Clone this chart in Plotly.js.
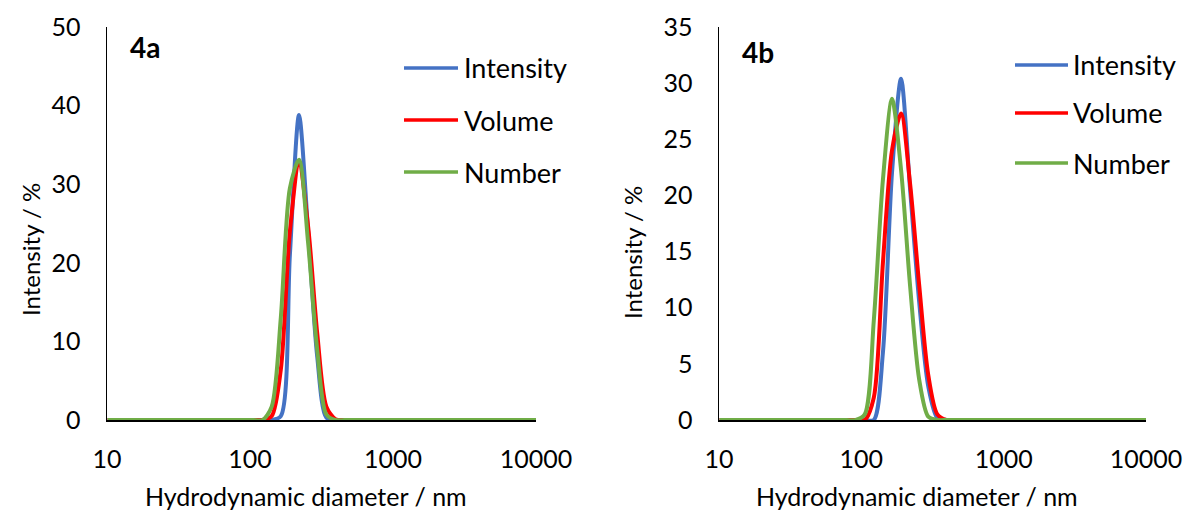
<!DOCTYPE html>
<html><head><meta charset="utf-8">
<script src="https://cdn.plot.ly/plotly-3.0.1.min.js"></script>
<style>html,body{margin:0;padding:0;background:#fff;}#chart{width:1183px;height:515px;}</style>
</head><body><div id="chart"></div>
<script>
// Hydrodynamic diameter bins (nm)
const sizes = [10.1,11.7,13.54,15.69,18.17,21.04,24.36,28.21,32.67,37.84,43.82,50.75,58.77,68.06,78.82,91.28,105.7,122.4,141.8,164.2,190.1,220.2,255.0,295.3,342.0,396.1,458.7,531.2,615.1,712.4,825.0,955.4,1106,1281,1484,1718,1990,2305,2669,3091,3580,4145,4801,5560,6439,7456,8635,10000];
// Panel 4a
const intensityA = [0,0,0,0,0,0,0,0,0,0,0,0,0,0,0,0,0,0,0,0.5,21,38.8,24,8,0.3,0,0,0,0,0,0,0,0,0,0,0,0,0,0,0,0,0,0,0,0,0,0,0];
const volumeA    = [0,0,0,0,0,0,0,0,0,0,0,0,0,0,0,0,0,0,0.5,6.4,24,32.5,24.6,11,1.7,0.1,0,0,0,0,0,0,0,0,0,0,0,0,0,0,0,0,0,0,0,0,0,0];
const numberA    = [0,0,0,0,0,0,0,0,0,0,0,0,0,0,0,0,0,0,1.7,13,29.5,33.1,22.5,8.9,0.7,0,0,0,0,0,0,0,0,0,0,0,0,0,0,0,0,0,0,0,0,0,0,0];
// Panel 4b
const intensityB = [0,0,0,0,0,0,0,0,0,0,0,0,0,0,0,0,0,0,6,22,30.4,20.5,10.5,3,0.2,0,0,0,0,0,0,0,0,0,0,0,0,0,0,0,0,0,0,0,0,0,0,0];
const volumeB    = [0,0,0,0,0,0,0,0,0,0,0,0,0,0,0,0,0,2,14,24,27.3,21,12,4,0.5,0,0,0,0,0,0,0,0,0,0,0,0,0,0,0,0,0,0,0,0,0,0,0];
const numberB    = [0,0,0,0,0,0,0,0,0,0,0,0,0,0,0,0,0.5,8.9,21.4,28.6,22.3,11.9,3.6,0.3,0,0,0,0,0,0,0,0,0,0,0,0,0,0,0,0,0,0,0,0,0,0,0,0];
const seriesNames = ["Intensity","Volume","Number"];
const colors = ["#4472C4","#FF0000","#70AD47"];
const xTicks = [10,100,1000,10000];
const xTickText = ["10","100","1000","10000"];
const panelLabels = ["4a","4b"];
const xTitle = "Hydrodynamic diameter / nm";
const yTitle = "Intensity / %";

const FONT = "Lato, 'Open Sans', sans-serif";
const W = 1183, H = 515;
const px = x => x / W, py = y => 1 - y / H;

const traces = [];
const dataA = [intensityA, volumeA, numberA];
const dataB = [intensityB, volumeB, numberB];
dataA.forEach((d,i)=>traces.push({x:sizes,y:d,type:'scatter',mode:'lines',name:seriesNames[i],
  line:{color:colors[i],width:4,shape:'spline',smoothing:0.8},xaxis:'x',yaxis:'y',showlegend:false}));
dataB.forEach((d,i)=>traces.push({x:sizes,y:d,type:'scatter',mode:'lines',name:seriesNames[i],
  line:{color:colors[i],width:4,shape:'spline',smoothing:0.8},xaxis:'x2',yaxis:'y2',showlegend:false}));

const xBase = {type:'log',range:[1,4],tickvals:xTicks,ticktext:xTickText,showgrid:false,zeroline:false,
  showline:true,linecolor:'#000',linewidth:1.5,ticks:'',ticklabelstandoff:16,layer:'below traces',
  tickfont:{family:FONT,size:25,color:'#000'},fixedrange:true};
const yBase = {showgrid:false,zeroline:false,showline:true,linecolor:'#000',linewidth:1.5,ticks:'',
  ticklabelstandoff:20,layer:'below traces',tickfont:{family:FONT,size:25,color:'#000'},fixedrange:true};

const shapes = [], annotations = [];
const legL = {x0:404,x1:458,tx:462,ys:[68,120,172]};
const legR = {x0:1015,x1:1068,tx:1071,ys:[65,113,163]};
[legL,legR].forEach(L=>{
  L.ys.forEach((y,i)=>{
    shapes.push({type:'line',xref:'paper',yref:'paper',x0:px(L.x0),x1:px(L.x1),y0:py(y),y1:py(y),line:{color:colors[i],width:3.5}});
    annotations.push({xref:'paper',yref:'paper',x:px(L.tx),y:py(y),xanchor:'left',yanchor:'middle',showarrow:false,
      text:seriesNames[i],font:{family:FONT,size:27,color:'#000'}});
  });
});
annotations.push({xref:'paper',yref:'paper',x:px(128),y:py(47),xanchor:'left',yanchor:'middle',showarrow:false,
  text:'<b>'+panelLabels[0]+'</b>',font:{family:FONT,size:28,color:'#000'}});
annotations.push({xref:'paper',yref:'paper',x:px(740),y:py(52),xanchor:'left',yanchor:'middle',showarrow:false,
  text:'<b>'+panelLabels[1]+'</b>',font:{family:FONT,size:28,color:'#000'}});
annotations.push({xref:'paper',yref:'paper',x:px(306),y:py(496),xanchor:'center',yanchor:'middle',showarrow:false,
  text:xTitle,font:{family:FONT,size:25,color:'#000'}});
annotations.push({xref:'paper',yref:'paper',x:px(917),y:py(496),xanchor:'center',yanchor:'middle',showarrow:false,
  text:xTitle,font:{family:FONT,size:25,color:'#000'}});
annotations.push({xref:'paper',yref:'paper',x:px(30),y:py(250),xanchor:'center',yanchor:'middle',showarrow:false,textangle:-90,
  text:yTitle,font:{family:FONT,size:24,color:'#000'}});
annotations.push({xref:'paper',yref:'paper',x:px(632),y:py(253),xanchor:'center',yanchor:'middle',showarrow:false,textangle:-90,
  text:yTitle,font:{family:FONT,size:24,color:'#000'}});

const layout = {
  width:W,height:H,margin:{l:0,r:0,t:0,b:0},paper_bgcolor:'#fff',plot_bgcolor:'#fff',showlegend:false,
  font:{family:FONT,color:'#000'},
  xaxis:Object.assign({},xBase,{domain:[px(107),px(536)],anchor:'y'}),
  yaxis:Object.assign({},yBase,{domain:[py(420),py(27)],range:[0,50],dtick:10,anchor:'x'}),
  xaxis2:Object.assign({},xBase,{domain:[px(719),px(1146)],anchor:'y2'}),
  yaxis2:Object.assign({},yBase,{domain:[py(420),py(27)],range:[0,35],dtick:5,anchor:'x2'}),
  shapes:shapes,annotations:annotations
};
Plotly.newPlot('chart',traces,layout,{staticPlot:true,displayModeBar:false});
</script></body></html>
